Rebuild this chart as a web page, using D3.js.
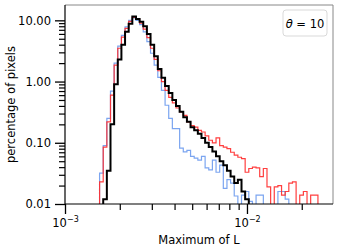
<!DOCTYPE html>
<meta charset="utf-8">
<style>
  body { margin: 0; background: #fff; }
  svg text { font-family: 'DejaVu Sans', sans-serif; fill: #000; }
  .axis path { display: none; }
  .axis line { stroke: #000; }
</style>
<script src="https://cdn.jsdelivr.net/npm/d3@7"></script>
<body>
<div id="chart"></div>
<script>
// 直方图的分箱边界（对数间隔）
const binEdges = [
  0.0015488, 0.0016218, 0.0016982, 0.0017783, 0.0018621, 0.0019498, 0.0020417, 0.0021380,
  0.0022387, 0.0023442, 0.0024547, 0.0025704, 0.0026915, 0.0028184, 0.0029512, 0.0030903,
  0.0032359, 0.0033884, 0.0035481, 0.0037154, 0.0038905, 0.0040738, 0.0042658, 0.0044668,
  0.0046774, 0.0048978, 0.0051286, 0.0053703, 0.0056234, 0.0058884, 0.0061660, 0.0064565,
  0.0067608, 0.0070795, 0.0074131, 0.0077625, 0.0081283, 0.0085114, 0.0089125, 0.0093325,
  0.0097724, 0.0102329, 0.0107152, 0.0112202, 0.0117490, 0.0123027, 0.0128825, 0.0134896,
  0.0141254, 0.0147911, 0.0154882, 0.0162181, 0.0169824, 0.0177828, 0.0186209, 0.0194984,
  0.0204174, 0.0213796, 0.0223872, 0.0234423, 0.0245471
];

// 三条直方图（百分比）
const blueVals = [
  0.032, 0.09, 0.25, 0.7, 2.0, 3.8, 5.7, 7.8, 10, 11,
  10, 8.5, 6.5, 4.5, 2.9, 1.85, 1.17, 0.72, 0.41, 0.25,
  0.17, 0.17, 0.082, 0.071, 0.075, 0.06, 0.056, 0.052, 0.06, 0.039,
  0.036, 0.052, 0.033, 0.043, 0.018, 0.025, 0.022, 0.0135, 0, 0.014,
  0.016, 0.011, 0, 0.014, 0.014, 0, 0, 0, 0, 0.016,
  0.016, 0.012, 0, 0, 0, 0, 0, 0, 0, 0
];
const redVals = [
  0.023, 0.085, 0.22, 0.6, 1.85, 3.5, 5.3, 7.4, 9.6, 11.2,
  10.5, 9.0, 7.2, 5.2, 3.5, 2.3, 1.5, 1.0, 0.72, 0.55,
  0.45, 0.37, 0.32, 0.28, 0.22, 0.19, 0.18, 0.16, 0.15, 0.13,
  0.11, 0.10, 0.12, 0.09, 0.085, 0.08, 0.07, 0.063, 0.058, 0.055,
  0.033, 0.038, 0.04, 0.039, 0.028, 0.038, 0.019, 0, 0.019, 0.02,
  0.014, 0.016, 0.022, 0.023, 0, 0.014, 0.016, 0, 0.014, 0.014
];
const blackVals = [
  0, 0.012, 0.035, 0.2, 0.9, 2.3, 4.0, 6.5, 8.8, 11.5,
  10.5, 9.5, 8.0, 6.0, 4.0, 2.6, 1.6, 1.15, 0.85, 0.65,
  0.5, 0.4, 0.32, 0.26, 0.22, 0.18, 0.16, 0.14, 0.12, 0.1,
  0.085, 0.072, 0.06, 0.05, 0.043, 0.035, 0.028, 0.022, 0.025, 0.016,
  0.012, 0, 0, 0, 0, 0, 0, 0, 0, 0,
  0, 0, 0, 0, 0, 0, 0, 0, 0, 0
];

const yMajor = [0.01, 0.1, 1, 10];
const xMajor = [0.001, 0.01];
const xMajorExp = ["\u22123", "\u22122"];

const series = [
  {vals: blueVals, color: "#6495ed", width: 1.2, opacity: 0.85},
  {vals: redVals, color: "#ff2a2a", width: 1.2, opacity: 0.9},
  {vals: blackVals, color: "#000", width: 2, opacity: 1}
];

// 画布
const W = 338, H = 249;
const margin = {top: 5, right: 5, bottom: 45, left: 65};
const width = W - margin.left - margin.right,
      height = H - margin.top - margin.bottom;

const svg = d3.select("#chart").append("svg")
  .attr("width", W).attr("height", H);

const g = svg.append("g")
  .attr("transform", `translate(${margin.left},${margin.top})`);

const x = d3.scaleLog().domain([0.001, 0.0297]).range([0, width]);
const y = d3.scaleLog().domain([0.01, 17.8]).range([height, 0]).clamp(true);

svg.append("defs").append("clipPath").attr("id", "clip")
  .append("rect").attr("width", width).attr("height", height);

// 阶梯直方图
function stepPoints(vals) {
  const pts = [[binEdges[0], 1e-4]];
  vals.forEach((v, i) => {
    const vv = v > 0 ? v : 1e-4;
    pts.push([binEdges[i], vv]);
    pts.push([binEdges[i + 1], vv]);
  });
  pts.push([binEdges[vals.length], 1e-4]);
  return pts;
}

const line = d3.line().x(d => x(d[0])).y(d => y(d[1]) + (d[1] < 0.01 ? 3 : 0));

g.append("g").attr("clip-path", "url(#clip)")
  .selectAll("path")
  .data(series)
  .join("path")
  .attr("d", d => line(stepPoints(d.vals)))
  .attr("fill", "none")
  .attr("stroke", d => d.color)
  .attr("stroke-width", d => d.width)
  .attr("stroke-opacity", d => d.opacity)
  .attr("stroke-linejoin", "miter");

// 边框
g.append("line").attr("x1", 0).attr("x2", width).attr("y1", 0).attr("y2", 0)
  .attr("stroke", "#888").attr("stroke-width", 1);
g.append("line").attr("x1", width).attr("x2", width).attr("y1", 0).attr("y2", height)
  .attr("stroke", "#888").attr("stroke-width", 1);
g.append("line").attr("x1", 0).attr("x2", 0).attr("y1", 0).attr("y2", height)
  .attr("stroke", "#000").attr("stroke-width", 1.2);
g.append("line").attr("x1", 0).attr("x2", width).attr("y1", height).attr("y2", height)
  .attr("stroke", "#000").attr("stroke-width", 1.2);

// y 轴
const yMinor = y.ticks().filter(t => !yMajor.some(m => Math.abs(m - t) < 1e-9));
g.append("g").attr("class", "axis")
  .call(d3.axisLeft(y).tickValues(yMinor).tickSize(6).tickFormat(""))
  .selectAll("line").attr("stroke-width", 1.2);
const yAx = g.append("g").attr("class", "axis")
  .call(d3.axisLeft(y).tickValues(yMajor).tickSize(10).tickPadding(4).tickFormat(d3.format(".2f")));
yAx.selectAll("line").attr("stroke-width", 1.3);
yAx.selectAll("text").style("font-size", "11.5px");

// x 轴
const xMinor = x.ticks().filter(t => !xMajor.some(m => Math.abs(m - t) < 1e-12));
g.append("g").attr("class", "axis")
  .attr("transform", `translate(0,${height})`)
  .call(d3.axisBottom(x).tickValues(xMinor).tickSize(6).tickFormat(""))
  .selectAll("line").attr("stroke-width", 1.2);
const xAx = g.append("g").attr("class", "axis")
  .attr("transform", `translate(0,${height})`)
  .call(d3.axisBottom(x).tickValues(xMajor).tickSize(10).tickFormat(""));
xAx.selectAll("line").attr("stroke-width", 1.3);
xAx.selectAll(".tick").append("text")
  .attr("y", 23)
  .attr("text-anchor", "middle")
  .style("font-size", "11.5px")
  .each(function (d, i) {
    const t = d3.select(this);
    t.append("tspan").text("10");
    t.append("tspan").attr("dy", -5).style("font-size", "8px").text(xMajorExp[i]);
  });

// 轴标题
svg.append("text")
  .attr("transform", `translate(15,${margin.top + height / 2}) rotate(-90)`)
  .attr("text-anchor", "middle")
  .style("font-size", "11.5px")
  .text("percentage of pixels");

svg.append("text")
  .attr("x", margin.left + width / 2)
  .attr("y", 244)
  .attr("text-anchor", "middle")
  .style("font-size", "11.5px")
  .text("Maximum of L");

// 图例
const legend = g.append("g").attr("transform", `translate(${width - 50},5)`);
legend.append("rect")
  .attr("width", 44).attr("height", 26).attr("rx", 3)
  .attr("fill", "#fff").attr("fill-opacity", 0.8)
  .attr("stroke", "#d9d9d9").attr("stroke-width", 1);
const lt = legend.append("text")
  .attr("x", 22).attr("y", 17.5)
  .attr("text-anchor", "middle")
  .style("font-size", "11.5px");
lt.append("tspan").style("font-style", "italic").text("\u03b8");
lt.append("tspan").text(" = 10");
</script>
</body>
